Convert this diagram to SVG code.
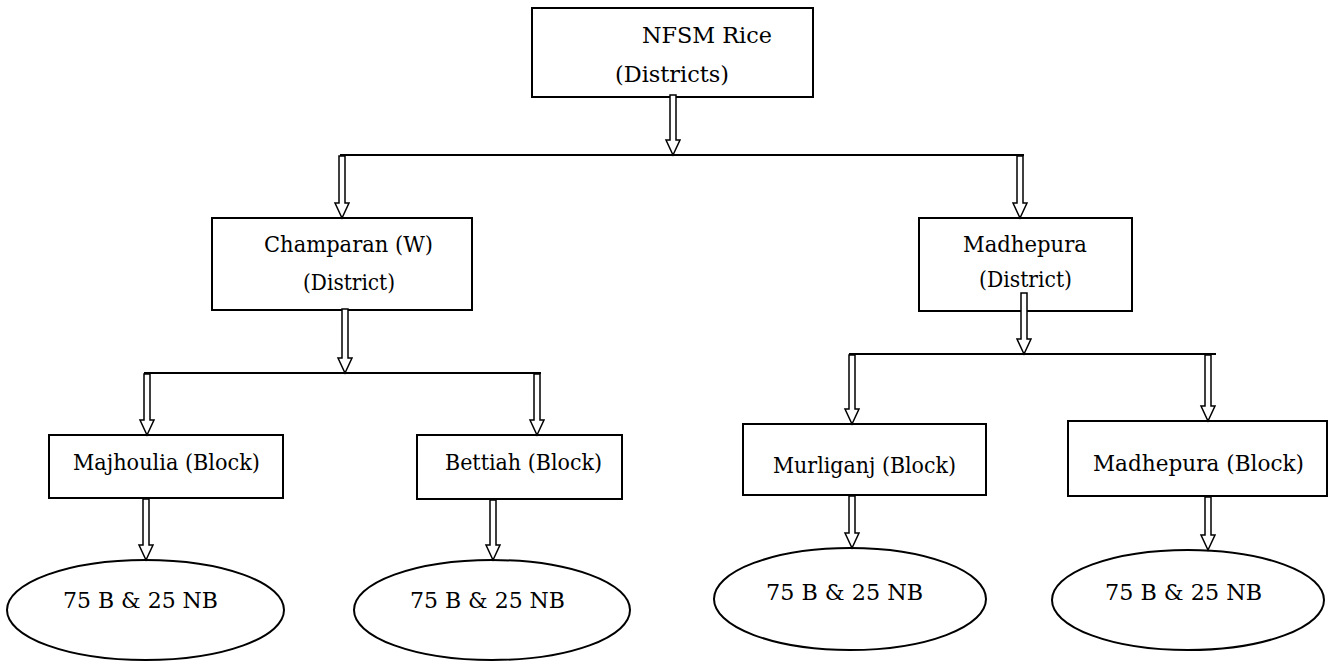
<svg xmlns="http://www.w3.org/2000/svg" width="1331" height="664" viewBox="0 0 1331 664">
<style>
.box{fill:#fff;stroke:#000;stroke-width:2}
.ell{fill:#fff;stroke:#000;stroke-width:2}
.ln{stroke:#000;stroke-width:2;fill:none}
.arr{fill:#fff;stroke:#000;stroke-width:1.5;stroke-linejoin:miter}
.t{font-family:'DejaVu Serif',serif;font-size:23px;fill:#000}
</style>
<rect width="1331" height="664" fill="#fff"/>
<g id="n-top"><rect class="box" x="532" y="8" width="281" height="89"/><text class="t" x="642" y="43" textLength="130" lengthAdjust="spacingAndGlyphs">NFSM Rice</text><text class="t" x="615" y="82" textLength="114" lengthAdjust="spacingAndGlyphs">(Districts)</text></g>
<g id="n-champaran"><rect class="box" x="212" y="218" width="260" height="92"/><text class="t" x="264" y="252" textLength="169" lengthAdjust="spacingAndGlyphs">Champaran (W)</text><text class="t" x="303" y="290" textLength="92" lengthAdjust="spacingAndGlyphs">(District)</text></g>
<g id="n-madhepura"><rect class="box" x="919" y="218" width="213" height="93"/><text class="t" x="963" y="252" textLength="124" lengthAdjust="spacingAndGlyphs">Madhepura</text><text class="t" x="979" y="287" textLength="93" lengthAdjust="spacingAndGlyphs">(District)</text></g>
<g id="n-majhoulia"><rect class="box" x="49" y="435" width="234" height="63"/><text class="t" x="73" y="470" textLength="187" lengthAdjust="spacingAndGlyphs">Majhoulia (Block)</text></g>
<g id="n-bettiah"><rect class="box" x="417" y="435" width="205" height="64"/><text class="t" x="445" y="470" textLength="157" lengthAdjust="spacingAndGlyphs">Bettiah (Block)</text></g>
<g id="n-murliganj"><rect class="box" x="743" y="424" width="243" height="71"/><text class="t" x="773" y="473" textLength="183" lengthAdjust="spacingAndGlyphs">Murliganj (Block)</text></g>
<g id="n-madhepura-block"><rect class="box" x="1068" y="421" width="259" height="75"/><text class="t" x="1093" y="471" textLength="211" lengthAdjust="spacingAndGlyphs">Madhepura (Block)</text></g>
<g id="n-e1"><ellipse class="ell" cx="145.5" cy="610" rx="138.5" ry="50"/><text class="t" x="63" y="608" textLength="155" lengthAdjust="spacingAndGlyphs">75 B &amp; 25 NB</text></g>
<g id="n-e2"><ellipse class="ell" cx="492" cy="610" rx="138" ry="50"/><text class="t" x="410" y="608" textLength="155" lengthAdjust="spacingAndGlyphs">75 B &amp; 25 NB</text></g>
<g id="n-e3"><ellipse class="ell" cx="850" cy="599" rx="136" ry="51"/><text class="t" x="766" y="600" textLength="157" lengthAdjust="spacingAndGlyphs">75 B &amp; 25 NB</text></g>
<g id="n-e4"><ellipse class="ell" cx="1188" cy="600" rx="136" ry="50"/><text class="t" x="1105" y="600" textLength="157" lengthAdjust="spacingAndGlyphs">75 B &amp; 25 NB</text></g>
<g id="connectors">
<line class="ln" x1="340" y1="155" x2="1024" y2="155"/>
<line class="ln" x1="144" y1="373" x2="541" y2="373"/>
<line class="ln" x1="849" y1="354" x2="1216" y2="354"/>
<polygon class="arr" points="670,95 676,95 676,140 680,140 673,155 666,140 670,140"/>
<polygon class="arr" points="339,156 345,156 345,203 349,203 342,218 335,203 339,203"/>
<polygon class="arr" points="1017,156 1023,156 1023,203 1027,203 1020,218 1013,203 1017,203"/>
<polygon class="arr" points="342,309 348,309 348,358 352,358 345,373 338,358 342,358"/>
<polygon class="arr" points="1021,293 1027,293 1027,339 1031,339 1024,354 1017,339 1021,339"/>
<polygon class="arr" points="144,374 150,374 150,420 154,420 147,435 140,420 144,420"/>
<polygon class="arr" points="534,374 540,374 540,420 544,420 537,435 530,420 534,420"/>
<polygon class="arr" points="849,355 855,355 855,409 859,409 852,424 845,409 849,409"/>
<polygon class="arr" points="1205,355 1211,355 1211,406 1215,406 1208,421 1201,406 1205,406"/>
<polygon class="arr" points="143,499 149,499 149,545 153,545 146,560 139,545 143,545"/>
<polygon class="arr" points="490,500 496,500 496,545 500,545 493,560 486,545 490,545"/>
<polygon class="arr" points="849,496 855,496 855,533 859,533 852,548 845,533 849,533"/>
<polygon class="arr" points="1205,497 1211,497 1211,535 1215,535 1208,550 1201,535 1205,535"/>
</g>
</svg>
